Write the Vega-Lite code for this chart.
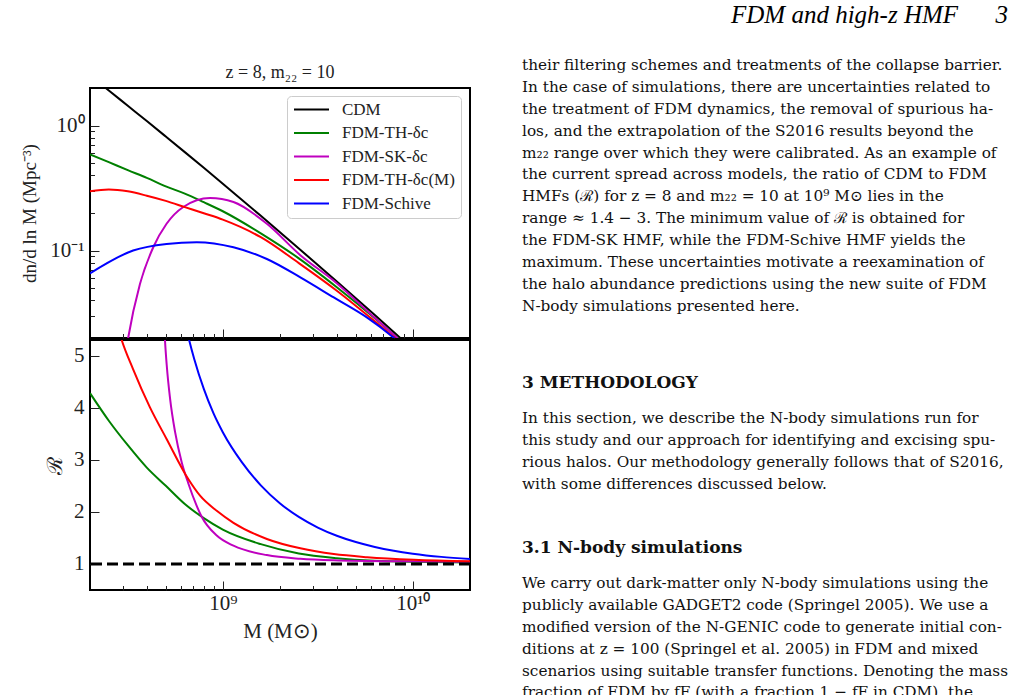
{
  "$schema": "https://vega.github.io/schema/vega-lite/v6.json",
  "background": "white",
  "padding": {"left": 19, "top": 3, "right": 0, "bottom": 0},
  "title": {
    "text": "FDM and high-z HMF\u2003\u20023",
    "anchor": "end",
    "font": "Liberation Serif",
    "fontStyle": "italic",
    "fontWeight": "normal",
    "fontSize": 25,
    "color": "black",
    "offset": 30
  },
  "config": {
    "view": {"stroke": "black", "strokeWidth": 2},
    "axis": {
      "domain": false,
      "grid": false,
      "labelFont": "Liberation Serif",
      "labelFontSize": 21,
      "labelColor": "#222222",
      "titleFont": "Liberation Serif",
      "titleFontSize": 21,
      "titleFontWeight": "normal",
      "titleColor": "#222222",
      "tickColor": "#222222",
      "tickWidth": 1,
      "labelOverlap": false,
      "labelFlush": false
    },
    "title": {"font": "Liberation Serif", "fontWeight": "normal", "color": "#222222"}
  },
  "datasets": {
    "hmf": [
      {"model": "CDM", "M": 2.0e8, "v": 2.52},
      {"model": "CDM", "M": 2.512e8, "v": 1.912},
      {"model": "CDM", "M": 3.162e8, "v": 1.442},
      {"model": "CDM", "M": 3.981e8, "v": 1.088},
      {"model": "CDM", "M": 5.012e8, "v": 0.818},
      {"model": "CDM", "M": 6.31e8, "v": 0.614},
      {"model": "CDM", "M": 7.943e8, "v": 0.4594},
      {"model": "CDM", "M": 1.0e9, "v": 0.3428},
      {"model": "CDM", "M": 1.585e9, "v": 0.1898},
      {"model": "CDM", "M": 2.512e9, "v": 0.1041},
      {"model": "CDM", "M": 3.981e9, "v": 0.0566},
      {"model": "CDM", "M": 6.31e9, "v": 0.0305},
      {"model": "CDM", "M": 1.0e10, "v": 0.01626},

      {"model": "FDM-TH-δc", "M": 2.0e8, "v": 0.589},
      {"model": "FDM-TH-δc", "M": 2.512e8, "v": 0.51},
      {"model": "FDM-TH-δc", "M": 3.162e8, "v": 0.44},
      {"model": "FDM-TH-δc", "M": 3.981e8, "v": 0.382},
      {"model": "FDM-TH-δc", "M": 5.012e8, "v": 0.327},
      {"model": "FDM-TH-δc", "M": 6.31e8, "v": 0.286},
      {"model": "FDM-TH-δc", "M": 7.943e8, "v": 0.244},
      {"model": "FDM-TH-δc", "M": 1.0e9, "v": 0.2065},
      {"model": "FDM-TH-δc", "M": 1.585e9, "v": 0.1375},
      {"model": "FDM-TH-δc", "M": 2.512e9, "v": 0.0868},
      {"model": "FDM-TH-δc", "M": 3.981e9, "v": 0.051},
      {"model": "FDM-TH-δc", "M": 6.31e9, "v": 0.0288},
      {"model": "FDM-TH-δc", "M": 1.0e10, "v": 0.01563},

      {"model": "FDM-SK-δc", "M": 3.1e8, "v": 0.016},
      {"model": "FDM-SK-δc", "M": 3.177e8, "v": 0.0201},
      {"model": "FDM-SK-δc", "M": 3.664e8, "v": 0.054},
      {"model": "FDM-SK-δc", "M": 4.305e8, "v": 0.1064},
      {"model": "FDM-SK-δc", "M": 5.058e8, "v": 0.164},
      {"model": "FDM-SK-δc", "M": 6.194e8, "v": 0.2234},
      {"model": "FDM-SK-δc", "M": 8.57e8, "v": 0.2636},
      {"model": "FDM-SK-δc", "M": 1.138e9, "v": 0.2449},
      {"model": "FDM-SK-δc", "M": 1.706e9, "v": 0.164},
      {"model": "FDM-SK-δc", "M": 2.559e9, "v": 0.092},
      {"model": "FDM-SK-δc", "M": 3.837e9, "v": 0.0574},
      {"model": "FDM-SK-δc", "M": 6.31e9, "v": 0.029},
      {"model": "FDM-SK-δc", "M": 1.0e10, "v": 0.0155},

      {"model": "FDM-TH-δc(M)", "M": 2.0e8, "v": 0.299},
      {"model": "FDM-TH-δc(M)", "M": 2.512e8, "v": 0.308},
      {"model": "FDM-TH-δc(M)", "M": 3.162e8, "v": 0.298},
      {"model": "FDM-TH-δc(M)", "M": 3.981e8, "v": 0.275},
      {"model": "FDM-TH-δc(M)", "M": 5.012e8, "v": 0.25},
      {"model": "FDM-TH-δc(M)", "M": 6.31e8, "v": 0.223},
      {"model": "FDM-TH-δc(M)", "M": 7.943e8, "v": 0.199},
      {"model": "FDM-TH-δc(M)", "M": 1.0e9, "v": 0.177},
      {"model": "FDM-TH-δc(M)", "M": 1.585e9, "v": 0.128},
      {"model": "FDM-TH-δc(M)", "M": 2.512e9, "v": 0.0795},
      {"model": "FDM-TH-δc(M)", "M": 3.981e9, "v": 0.0478},
      {"model": "FDM-TH-δc(M)", "M": 6.31e9, "v": 0.0272},
      {"model": "FDM-TH-δc(M)", "M": 1.0e10, "v": 0.01506},

      {"model": "FDM-Schive", "M": 2.0e8, "v": 0.0658},
      {"model": "FDM-Schive", "M": 3.373e8, "v": 0.1002},
      {"model": "FDM-Schive", "M": 5.058e8, "v": 0.1132},
      {"model": "FDM-Schive", "M": 7.295e8, "v": 0.1169},
      {"model": "FDM-Schive", "M": 1.138e9, "v": 0.1064},
      {"model": "FDM-Schive", "M": 1.706e9, "v": 0.0857},
      {"model": "FDM-Schive", "M": 2.559e9, "v": 0.0611},
      {"model": "FDM-Schive", "M": 3.837e9, "v": 0.0422},
      {"model": "FDM-Schive", "M": 5.754e9, "v": 0.0291},
      {"model": "FDM-Schive", "M": 7.943e9, "v": 0.0201},
      {"model": "FDM-Schive", "M": 1.0e10, "v": 0.0148}
    ],
    "ratio": [
      {"model": "FDM-TH-δc", "M": 2.0e8, "R": 4.28},
      {"model": "FDM-TH-δc", "M": 2.512e8, "R": 3.75},
      {"model": "FDM-TH-δc", "M": 3.162e8, "R": 3.28},
      {"model": "FDM-TH-δc", "M": 3.981e8, "R": 2.85},
      {"model": "FDM-TH-δc", "M": 5.012e8, "R": 2.5},
      {"model": "FDM-TH-δc", "M": 6.31e8, "R": 2.15},
      {"model": "FDM-TH-δc", "M": 7.943e8, "R": 1.88},
      {"model": "FDM-TH-δc", "M": 1.0e9, "R": 1.66},
      {"model": "FDM-TH-δc", "M": 1.585e9, "R": 1.38},
      {"model": "FDM-TH-δc", "M": 2.512e9, "R": 1.2},
      {"model": "FDM-TH-δc", "M": 3.981e9, "R": 1.11},
      {"model": "FDM-TH-δc", "M": 6.31e9, "R": 1.06},
      {"model": "FDM-TH-δc", "M": 1.0e10, "R": 1.04},
      {"model": "FDM-TH-δc", "M": 2.0e10, "R": 1.03},

      {"model": "FDM-SK-δc", "M": 4.9e8, "R": 5.7},
      {"model": "FDM-SK-δc", "M": 4.96e8, "R": 5.31},
      {"model": "FDM-SK-δc", "M": 5.07e8, "R": 4.81},
      {"model": "FDM-SK-δc", "M": 5.28e8, "R": 4.17},
      {"model": "FDM-SK-δc", "M": 5.61e8, "R": 3.53},
      {"model": "FDM-SK-δc", "M": 6.08e8, "R": 2.95},
      {"model": "FDM-SK-δc", "M": 6.58e8, "R": 2.55},
      {"model": "FDM-SK-δc", "M": 7.28e8, "R": 2.12},
      {"model": "FDM-SK-δc", "M": 7.73e8, "R": 1.91},
      {"model": "FDM-SK-δc", "M": 9.29e8, "R": 1.545},
      {"model": "FDM-SK-δc", "M": 1.138e9, "R": 1.35},
      {"model": "FDM-SK-δc", "M": 1.706e9, "R": 1.17},
      {"model": "FDM-SK-δc", "M": 2.559e9, "R": 1.1},
      {"model": "FDM-SK-δc", "M": 3.837e9, "R": 1.07},
      {"model": "FDM-SK-δc", "M": 8.63e9, "R": 1.05},
      {"model": "FDM-SK-δc", "M": 2.0e10, "R": 1.04},

      {"model": "FDM-TH-δc(M)", "M": 2.8e8, "R": 5.55},
      {"model": "FDM-TH-δc(M)", "M": 2.93e8, "R": 5.31},
      {"model": "FDM-TH-δc(M)", "M": 3.37e8, "R": 4.74},
      {"model": "FDM-TH-δc(M)", "M": 4.13e8, "R": 4.01},
      {"model": "FDM-TH-δc(M)", "M": 5.06e8, "R": 3.4},
      {"model": "FDM-TH-δc(M)", "M": 6.58e8, "R": 2.63},
      {"model": "FDM-TH-δc(M)", "M": 7.59e8, "R": 2.31},
      {"model": "FDM-TH-δc(M)", "M": 9.29e8, "R": 2.02},
      {"model": "FDM-TH-δc(M)", "M": 1.138e9, "R": 1.79},
      {"model": "FDM-TH-δc(M)", "M": 1.706e9, "R": 1.48},
      {"model": "FDM-TH-δc(M)", "M": 2.559e9, "R": 1.3},
      {"model": "FDM-TH-δc(M)", "M": 3.837e9, "R": 1.19},
      {"model": "FDM-TH-δc(M)", "M": 5.754e9, "R": 1.13},
      {"model": "FDM-TH-δc(M)", "M": 1.014e10, "R": 1.08},
      {"model": "FDM-TH-δc(M)", "M": 2.0e10, "R": 1.05},

      {"model": "FDM-Schive", "M": 6.31e8, "R": 5.65},
      {"model": "FDM-Schive", "M": 6.607e8, "R": 5.34},
      {"model": "FDM-Schive", "M": 7.079e8, "R": 4.93},
      {"model": "FDM-Schive", "M": 7.943e8, "R": 4.36},
      {"model": "FDM-Schive", "M": 8.913e8, "R": 3.9},
      {"model": "FDM-Schive", "M": 1.0e9, "R": 3.53},
      {"model": "FDM-Schive", "M": 1.259e9, "R": 2.955},
      {"model": "FDM-Schive", "M": 1.585e9, "R": 2.51},
      {"model": "FDM-Schive", "M": 1.995e9, "R": 2.167},
      {"model": "FDM-Schive", "M": 2.512e9, "R": 1.903},
      {"model": "FDM-Schive", "M": 3.162e9, "R": 1.699},
      {"model": "FDM-Schive", "M": 3.981e9, "R": 1.542},
      {"model": "FDM-Schive", "M": 5.012e9, "R": 1.421},
      {"model": "FDM-Schive", "M": 6.31e9, "R": 1.327},
      {"model": "FDM-Schive", "M": 7.943e9, "R": 1.254},
      {"model": "FDM-Schive", "M": 1.0e10, "R": 1.198},
      {"model": "FDM-Schive", "M": 1.413e10, "R": 1.136},
      {"model": "FDM-Schive", "M": 2.042e10, "R": 1.092}
    ],
    "page": [
      {"block": "p1", "line": 1, "text": "their filtering schemes and treatments of the collapse barrier."},
      {"block": "p1", "line": 2, "text": "In the case of simulations, there are uncertainties related to"},
      {"block": "p1", "line": 3, "text": "the treatment of FDM dynamics, the removal of spurious ha-"},
      {"block": "p1", "line": 4, "text": "los, and the extrapolation of the S2016 results beyond the"},
      {"block": "p1", "line": 5, "text": "m₂₂ range over which they were calibrated. As an example of"},
      {"block": "p1", "line": 6, "text": "the current spread across models, the ratio of CDM to FDM"},
      {"block": "p1", "line": 7, "text": "HMFs (ℛ) for z = 8 and m₂₂ = 10 at 10⁹ M⊙ lies in the"},
      {"block": "p1", "line": 8, "text": "range ≈ 1.4 − 3. The minimum value of ℛ is obtained for"},
      {"block": "p1", "line": 9, "text": "the FDM-SK HMF, while the FDM-Schive HMF yields the"},
      {"block": "p1", "line": 10, "text": "maximum. These uncertainties motivate a reexamination of"},
      {"block": "p1", "line": 11, "text": "the halo abundance predictions using the new suite of FDM"},
      {"block": "p1", "line": 12, "text": "N-body simulations presented here."},
      {"block": "p2", "line": 1, "text": "In this section, we describe the N-body simulations run for"},
      {"block": "p2", "line": 2, "text": "this study and our approach for identifying and excising spu-"},
      {"block": "p2", "line": 3, "text": "rious halos. Our methodology generally follows that of S2016,"},
      {"block": "p2", "line": 4, "text": "with some differences discussed below."},
      {"block": "p3", "line": 1, "text": "We carry out dark-matter only N-body simulations using the"},
      {"block": "p3", "line": 2, "text": "publicly available GADGET2 code (Springel 2005). We use a"},
      {"block": "p3", "line": 3, "text": "modified version of the N-GENIC code to generate initial con-"},
      {"block": "p3", "line": 4, "text": "ditions at z = 100 (Springel et al. 2005) in FDM and mixed"},
      {"block": "p3", "line": 5, "text": "scenarios using suitable transfer functions. Denoting the mass"},
      {"block": "p3", "line": 6, "text": "fraction of FDM by fF (with a fraction 1 − fF in CDM), the"}
    ]
  },
  "hconcat": [
    {
      "spacing": -3,
      "resolve": {"scale": {"color": "independent"}},
      "vconcat": [
        {
          "width": 380,
          "height": 250,
          "title": {"text": "z = 8,  m₂₂ = 10", "fontSize": 18, "offset": 6},
          "data": {"name": "hmf"},
          "mark": {"type": "line", "clip": true, "strokeWidth": 2, "interpolate": "monotone"},
          "encoding": {
            "x": {
              "field": "M",
              "type": "quantitative",
              "scale": {"type": "log", "domain": [2.0e8, 2.0e10], "nice": false},
              "axis": {
                "title": null,
                "labels": false,
                "values": [3e8, 4e8, 5e8, 6e8, 7e8, 8e8, 9e8, 1e9, 2e9, 3e9, 4e9, 5e9, 6e9, 7e9, 8e9, 9e9, 1e10],
                "tickSize": {"condition": {"test": "datum.value === 1e9 || datum.value === 1e10", "value": -9}, "value": -4.5}
              }
            },
            "y": {
              "field": "v",
              "type": "quantitative",
              "scale": {"type": "log", "domain": [0.02, 2.0], "nice": false},
              "axis": {
                "title": "dn/d ln M (Mpc⁻³)",
                "titleFontSize": 19,
                "titlePadding": 10,
                "labelPadding": 15,
                "values": [0.03, 0.04, 0.05, 0.06, 0.07, 0.08, 0.09, 0.1, 0.2, 0.3, 0.4, 0.5, 0.6, 0.7, 0.8, 0.9, 1],
                "labelExpr": "datum.value === 1 ? '10⁰' : datum.value === 0.1 ? '10⁻¹' : ''",
                "tickSize": {"condition": {"test": "datum.value === 1 || datum.value === 0.1", "value": -9}, "value": -4.5}
              }
            },
            "color": {
              "field": "model",
              "type": "nominal",
              "scale": {
                "domain": ["CDM", "FDM-TH-δc", "FDM-SK-δc", "FDM-TH-δc(M)", "FDM-Schive"],
                "range": ["#000000", "#008000", "#bf00bf", "#ff0000", "#0000ff"]
              },
              "legend": {
                "title": null,
                "orient": "none",
                "legendX": 197,
                "legendY": 8,
                "symbolType": "stroke",
                "symbolSize": 1225,
                "symbolStrokeWidth": 2,
                "labelFont": "Liberation Serif",
                "labelFontSize": 17,
                "labelColor": "#222222",
                "labelOffset": 12,
                "labelLimit": 300,
                "rowPadding": 5.5,
                "clipHeight": 15,
                "padding": 6,
                "fillColor": "rgba(255,255,255,0.8)",
                "strokeColor": "#cccccc",
                "cornerRadius": 4
              }
            }
          }
        },
        {
          "width": 380,
          "height": 250,
          "layer": [
            {
              "data": {"name": "ratio"},
              "mark": {"type": "line", "clip": true, "strokeWidth": 2, "interpolate": "monotone"},
              "encoding": {
                "x": {
                  "field": "M",
                  "type": "quantitative",
                  "scale": {"type": "log", "domain": [2.0e8, 2.0e10], "nice": false},
                  "axis": {
                    "title": "M (M⊙)",
                    "titlePadding": 3,
                    "labelPadding": 11,
                    "values": [3e8, 4e8, 5e8, 6e8, 7e8, 8e8, 9e8, 1e9, 2e9, 3e9, 4e9, 5e9, 6e9, 7e9, 8e9, 9e9, 1e10],
                    "labelExpr": "datum.value === 1e9 ? '10⁹' : datum.value === 1e10 ? '10¹⁰' : ''",
                    "tickSize": {"condition": {"test": "datum.value === 1e9 || datum.value === 1e10", "value": -9}, "value": -4.5}
                  }
                },
                "y": {
                  "field": "R",
                  "type": "quantitative",
                  "scale": {"domain": [0.5, 5.3], "nice": false, "zero": false},
                  "axis": {
                    "title": "ℛ",
                    "titlePadding": 8,
                    "labelPadding": 15,
                    "format": "d",
                    "values": [1, 2, 3, 4, 5],
                    "tickSize": -9
                  }
                },
                "color": {
                  "field": "model",
                  "type": "nominal",
                  "scale": {
                    "domain": ["CDM", "FDM-TH-δc", "FDM-SK-δc", "FDM-TH-δc(M)", "FDM-Schive"],
                    "range": ["#000000", "#008000", "#bf00bf", "#ff0000", "#0000ff"]
                  },
                  "legend": null
                }
              }
            },
            {
              "data": {"values": [{}]},
              "mark": {"type": "rule", "strokeDash": [11, 5], "strokeWidth": 3, "color": "black"},
              "encoding": {"y": {"datum": 1, "type": "quantitative"}}
            }
          ]
        }
      ]
    },
    {
      "spacing": 44,
      "vconcat": [
        {
          "width": 486,
          "height": 241.3,
          "view": {"stroke": null},
          "data": {"name": "page"},
          "transform": [{"filter": "datum.block === 'p1'"}],
          "mark": {"type": "text", "align": "left", "baseline": "middle", "font": "DejaVu Serif", "fontSize": 15.3, "color": "#111111"},
          "encoding": {
            "x": {"datum": 0, "type": "quantitative", "scale": {"domain": [0, 1], "nice": false}, "axis": null},
            "y": {"field": "line", "type": "quantitative", "scale": {"domain": [2.05, 13.07], "nice": false, "zero": false, "reverse": true}, "axis": null},
            "text": {"field": "text"}
          }
        },
        {
          "width": 486,
          "height": 87.6,
          "view": {"stroke": null},
          "title": {"text": "3  METHODOLOGY", "anchor": "start", "font": "DejaVu Serif", "fontWeight": "bold", "fontSize": 17, "color": "#111111", "offset": 15},
          "data": {"name": "page"},
          "transform": [{"filter": "datum.block === 'p2'"}],
          "mark": {"type": "text", "align": "left", "baseline": "middle", "font": "DejaVu Serif", "fontSize": 15.3, "color": "#111111"},
          "encoding": {
            "x": {"datum": 0, "type": "quantitative", "scale": {"domain": [0, 1], "nice": false}, "axis": null},
            "y": {"field": "line", "type": "quantitative", "scale": {"domain": [0.5, 4.5], "nice": false, "zero": false, "reverse": true}, "axis": null},
            "text": {"field": "text"}
          }
        },
        {
          "width": 486,
          "height": 131.4,
          "view": {"stroke": null},
          "title": {"text": "3.1  N-body simulations", "anchor": "start", "font": "DejaVu Serif", "fontWeight": "bold", "fontSize": 17, "color": "#111111", "offset": 15},
          "data": {"name": "page"},
          "transform": [{"filter": "datum.block === 'p3'"}],
          "mark": {"type": "text", "align": "left", "baseline": "middle", "font": "DejaVu Serif", "fontSize": 15.3, "color": "#111111"},
          "encoding": {
            "x": {"datum": 0, "type": "quantitative", "scale": {"domain": [0, 1], "nice": false}, "axis": null},
            "y": {"field": "line", "type": "quantitative", "scale": {"domain": [0.5, 6.5], "nice": false, "zero": false, "reverse": true}, "axis": null},
            "text": {"field": "text"}
          }
        }
      ]
    }
  ],
  "spacing": 49
}
